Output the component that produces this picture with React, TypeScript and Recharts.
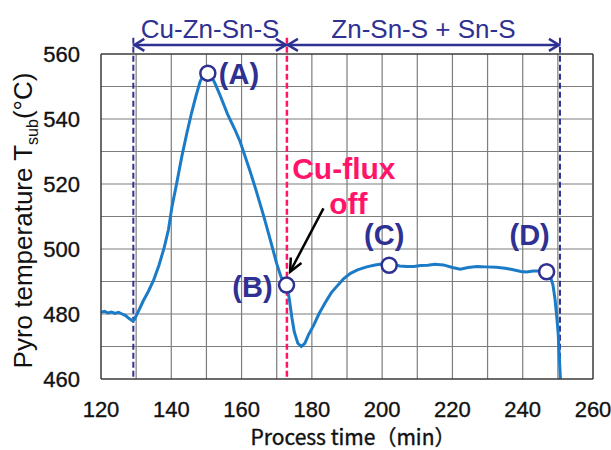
import React from "react";
import {
  LineChart,
  Line,
  XAxis,
  YAxis,
  ReferenceLine,
  ReferenceDot,
} from "recharts";

const NAVY = "#2e3192";
const PINK = "#ff1469";
const BLUE = "#1b7bc6";
const GRID = "#7d7d7d";
const FRAME = "#3a3a3a";
const FONT = "'Liberation Sans', Arial, sans-serif";

// process time (min) and pyrometer temperature (°C)
const timeMin = [
  120, 121, 122, 123, 124, 125, 126, 127, 128, 129, 129.5,
  130.5, 132, 133.5, 135, 136.5, 138, 139.2, 140.2, 141.5, 143, 144.5, 145.8, 147, 148.2, 149.3, 150.4,
  151.5, 152.5, 154, 156, 158, 159.6, 161, 162.4, 164, 166.2, 168, 170, 171.2, 172,
  173, 173.6, 174.3, 175, 176, 177, 178, 179, 180.5, 182, 183.7, 185.5, 187.1, 189, 191, 193, 195.6, 198, 200.8, 203,
  205, 207, 209, 211, 213, 215, 217.4, 220, 222.2, 224.5, 226.9, 229.5, 232.5, 235, 237.3, 239.5, 241.1, 243, 245, 246.8,
  248, 248.6, 249.2, 249.7, 250.1, 250.5, 250.9,
];
const tempC = [
  480.5, 480.8, 480.3, 480.6, 480.2, 480.5, 480.0, 479.5, 478.6, 477.9, 478.3,
  480.5, 484, 487, 490.5, 495, 500.5, 506, 513, 520, 528.5, 536, 542, 547, 551.5, 553.8, 554.5,
  553, 550.8, 547, 541.5, 537, 533, 528.5, 524, 518.5, 510.5, 503.5, 495.5, 491.5, 490,
  488, 484.5, 479, 474.5, 471, 470, 471, 473.5, 476.5, 480, 483.3, 486.5, 488.5, 490.8, 492.5, 493.6, 494.5, 495.1, 495.5, 495.3,
  494.8, 494.6, 494.6, 494.9, 495, 495.3, 495.1, 494.3, 493.8, 494.3, 494.6, 494.5, 494.4, 494.1, 493.6, 493.1, 492.9, 493.2, 493.2, 493,
  491, 489, 484.5, 479, 474, 465, 456,
];

const xTicks = [120, 130, 140, 150, 160, 170, 180, 190, 200, 210, 220, 230, 240, 250, 260];
const yTicks = [460, 470, 480, 490, 500, 510, 520, 530, 540, 550, 560];

// growth phases and their boundaries (min)
const phaseNames = ["Cu-Zn-Sn-S", "Zn-Sn-S + Sn-S"];
const phaseEdges = [129.2, 172.9, 250.6];
const phaseArrowTemp = 562.8;
const guideTop = 565;

// labelled points on the trace
const markerNames = ["(A)", "(B)", "(C)", "(D)"];
const markerTime = [150.4, 172.8, 202, 246.8];
const markerTemp = [554.1, 488.9, 495, 493];

// Cu-flux off note and its pointer
const noteLines = ["Cu-flux", "off"];
const noteAt = { t: 174.4, T: 521.4 };
const pointerFrom = { t: 183.3, T: 512.5 };
const pointerTo = { t: 173.8, T: 493.0 };

// label placement relative to each marker: dx, dy, anchor
const markerLabelPos: Array<[number, number, "start" | "middle" | "end"]> = [
  [11, 11, "start"],
  [-14, 12, "end"],
  [-5, -20, "middle"],
  [-17, -27, "middle"],
];

const data = timeMin.map((t, i) => ({ t, temp: tempC[i] }));
const xMin = xTicks[0];
const xMax = xTicks[xTicks.length - 1];
const yMin = yTicks[0];
const yMax = yTicks[yTicks.length - 1];

// grid from a segment strictly inside the plot: interpolate the tick positions
const gridFrom = { t: 130, T: 470 };
const gridTo = { t: 250, T: 550 };

function Grid(p: any) {
  const { x1, y1, x2, y2 } = p;
  const kx = (x2 - x1) / (gridTo.t - gridFrom.t);
  const ky = (y2 - y1) / (gridTo.T - gridFrom.T);
  const px = (v: number) => x1 + (v - gridFrom.t) * kx;
  const py = (v: number) => y1 + (v - gridFrom.T) * ky;
  const top = py(yMax);
  const bottom = py(yMin);
  const left = px(xMin);
  const right = px(xMax);
  return (
    <g>
      {xTicks.slice(1).map((v) => (
        <line
          key={"gx" + v}
          x1={px(v)}
          x2={px(v)}
          y1={top}
          y2={bottom}
          stroke={v === xMax ? FRAME : GRID}
          strokeWidth={v === xMax ? 1.5 : 1.2}
        />
      ))}
      {yTicks.slice(1).map((v) => (
        <line
          key={"gy" + v}
          x1={left}
          x2={right}
          y1={py(v)}
          y2={py(v)}
          stroke={v === yMax ? FRAME : GRID}
          strokeWidth={v === yMax ? 1.5 : 1.2}
        />
      ))}
    </g>
  );
}

function Rule(p: any, color: string, width: number, dash?: string) {
  return (
    <line
      x1={p.x1}
      y1={p.y1}
      x2={p.x2}
      y2={p.y2}
      stroke={color}
      strokeWidth={width}
      strokeDasharray={dash}
      fill="none"
    />
  );
}

function PhaseArrow(p: any, name: string) {
  const { x1, y1, x2 } = p;
  const h = 6;
  const l = 11;
  return (
    <g>
      <line x1={x1} y1={y1} x2={x2} y2={y1} stroke={NAVY} strokeWidth={2.5} />
      <polyline
        points={`${x1 + l},${y1 - h} ${x1 + 1},${y1} ${x1 + l},${y1 + h}`}
        fill="none"
        stroke={NAVY}
        strokeWidth={2.5}
      />
      <polyline
        points={`${x2 - l},${y1 - h} ${x2 - 1},${y1} ${x2 - l},${y1 + h}`}
        fill="none"
        stroke={NAVY}
        strokeWidth={2.5}
      />
      <text
        x={(x1 + x2) / 2}
        y={y1 - 7}
        textAnchor="middle"
        fill={NAVY}
        fontSize={26}
        fontFamily={FONT}
      >
        {name}
      </text>
    </g>
  );
}

function Pointer(p: any) {
  const { x1, y1, x2, y2 } = p;
  const ang = Math.atan2(y2 - y1, x2 - x1);
  const len = 13;
  const w = 6;
  const bx = x2 - len * Math.cos(ang);
  const by = y2 - len * Math.sin(ang);
  const nx = -Math.sin(ang) * w;
  const ny = Math.cos(ang) * w;
  return (
    <g>
      <line x1={x1} y1={y1} x2={x2} y2={y2} stroke="#000" strokeWidth={2.5} />
      <polyline
        points={`${bx + nx},${by + ny} ${x2},${y2} ${bx - nx},${by - ny}`}
        fill="none"
        stroke="#000"
        strokeWidth={2.5}
      />
    </g>
  );
}

function Marker(p: any, i: number) {
  const { cx, cy } = p;
  const [dx, dy, anchor] = markerLabelPos[i];
  return (
    <g>
      <circle cx={cx} cy={cy} r={7.5} fill="#fff" stroke={NAVY} strokeWidth={2.5} />
      <text
        x={cx + dx}
        y={cy + dy}
        textAnchor={anchor}
        fill={NAVY}
        fontSize={29}
        fontWeight="bold"
        fontFamily={FONT}
      >
        {markerNames[i]}
      </text>
    </g>
  );
}

function Note(p: any) {
  const { cx, cy } = p;
  return (
    <g fill={PINK} fontSize={30} fontWeight="bold" fontFamily={FONT}>
      <text x={cx} y={cy}>{noteLines[0]}</text>
      <text x={cx + 37} y={cy + 35}>{noteLines[1]}</text>
    </g>
  );
}

const tickStyle = { fontSize: 22, fill: "#111", stroke: "#111", strokeWidth: 0.35, fontFamily: FONT };

export default function App() {
  return (
    <div style={{ position: "absolute", left: 0, top: 0, width: 611, height: 450, background: "#fff" }}>
      <LineChart
        width={611}
        height={450}
        data={data}
        margin={{ top: 54, right: 18, bottom: 21, left: 41 }}
      >
        <XAxis
          dataKey="t"
          type="number"
          domain={[xMin, xMax]}
          ticks={xTicks}
          allowDataOverflow
          tickFormatter={(v) => (v % 20 === 0 ? String(v) : "")}
          tickLine={false}
          tickSize={0}
          tickMargin={22}
          height={50}
          axisLine={{ stroke: FRAME, strokeWidth: 1.5 }}
          tick={tickStyle}
          label={{
            content: (lp: any) => {
              const vb = lp.viewBox || { x: 101, y: 379, width: 492 };
              return (
                <text
                  x={vb.x + vb.width / 2 + 6}
                  y={vb.y + 66}
                  textAnchor="middle"
                  fill="#111"
                  stroke="#111"
                  strokeWidth={0.4}
                  fontSize={21}
                  fontFamily="'Noto Sans CJK JP', sans-serif"
                >
                  Process time（min）
                </text>
              );
            },
          }}
        />
        <YAxis
          type="number"
          domain={[yMin, yMax]}
          ticks={yTicks}
          allowDataOverflow
          tickFormatter={(v) => (v % 20 === 0 ? String(v) : "")}
          tickLine={false}
          tickSize={0}
          tickMargin={21}
          width={60}
          axisLine={{ stroke: FRAME, strokeWidth: 1.5 }}
          tick={tickStyle}
          label={{
            content: (lp: any) => {
              const vb = lp.viewBox || { x: 41, y: 54, height: 325 };
              const x = vb.x - 9;
              const y = vb.y + vb.height / 2 + 4;
              return (
                <text
                  x={x}
                  y={y}
                  transform={`rotate(-90, ${x}, ${y})`}
                  textAnchor="middle"
                  fill="#111"
                  fontSize={26}
                  fontFamily={FONT}
                >
                  Pyro temperature T
                  <tspan fontSize={16} dy={6}>sub</tspan>
                  <tspan dy={-6}>(°C)</tspan>
                </text>
              );
            },
          }}
        />

        <ReferenceLine
          segment={[
            { x: gridFrom.t, y: gridFrom.T },
            { x: gridTo.t, y: gridTo.T },
          ]}
          ifOverflow="visible"
          shape={(p: any) => Grid(p)}
        />

        {phaseEdges.map((e, i) => (
          <ReferenceLine
            key={"edge" + i}
            segment={[
              { x: e, y: guideTop },
              { x: e, y: yMin },
            ]}
            ifOverflow="visible"
            shape={(p: any) => Rule(p, i === 1 ? PINK : NAVY, i === 1 ? 2.5 : 2, "6 3")}
          />
        ))}

        {phaseNames.map((name, i) => (
          <ReferenceLine
            key={"phase" + i}
            segment={[
              { x: phaseEdges[i], y: phaseArrowTemp },
              { x: phaseEdges[i + 1], y: phaseArrowTemp },
            ]}
            ifOverflow="visible"
            shape={(p: any) => PhaseArrow(p, name)}
          />
        ))}

        <Line
          type="linear"
          dataKey="temp"
          stroke={BLUE}
          strokeWidth={3}
          dot={false}
          isAnimationActive={false}
        />

        <ReferenceLine
          segment={[
            { x: pointerFrom.t, y: pointerFrom.T },
            { x: pointerTo.t, y: pointerTo.T },
          ]}
          ifOverflow="visible"
          shape={(p: any) => Pointer(p)}
        />

        <ReferenceDot
          x={noteAt.t}
          y={noteAt.T}
          r={1}
          ifOverflow="visible"
          shape={(p: any) => Note(p)}
        />

        {markerNames.map((n, i) => (
          <ReferenceDot
            key={n}
            x={markerTime[i]}
            y={markerTemp[i]}
            r={7.5}
            ifOverflow="visible"
            shape={(p: any) => Marker(p, i)}
          />
        ))}
      </LineChart>
    </div>
  );
}
